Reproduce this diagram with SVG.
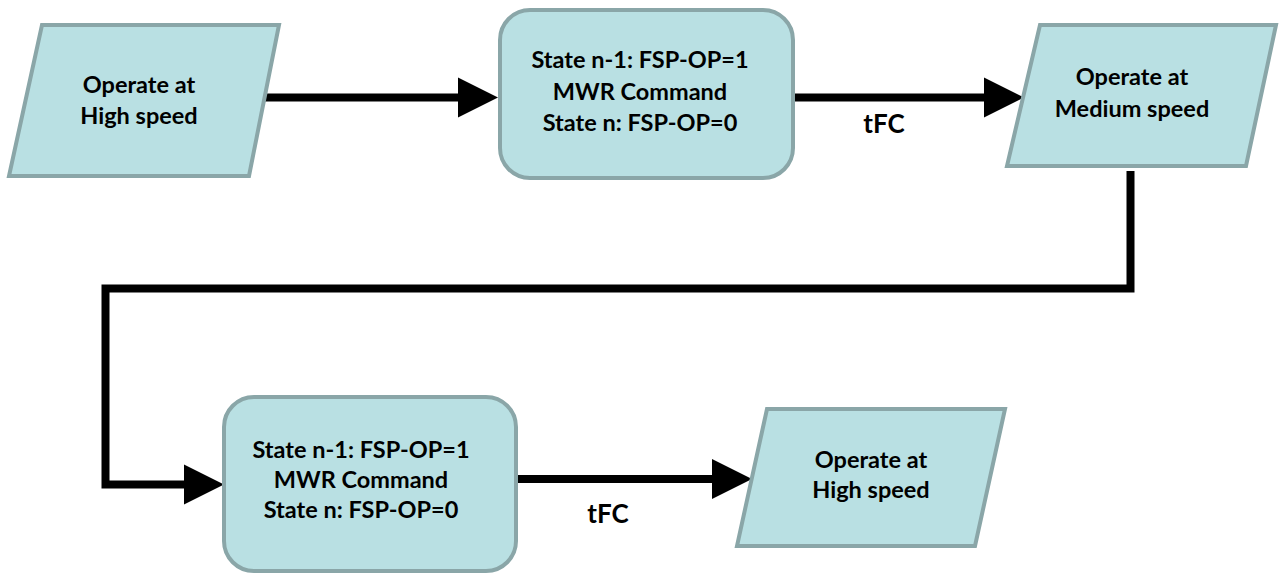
<svg xmlns="http://www.w3.org/2000/svg" width="1280" height="575" viewBox="0 0 1280 575">
<style>
.shape{fill:#b9e0e3;stroke:#8aa6a8;stroke-width:4;stroke-linejoin:miter}
.t{font-family:Lato,"Open Sans","Liberation Sans",sans-serif;font-weight:bold;font-size:23.5px;fill:#000;text-anchor:middle}
.lbl{font-family:Lato,"Open Sans","Liberation Sans",sans-serif;font-weight:bold;font-size:26px;fill:#000;text-anchor:middle}
.conn{fill:none;stroke:#000;stroke-width:8;stroke-linejoin:miter;stroke-linecap:butt}
</style>
<defs>
<marker id="ah" markerUnits="userSpaceOnUse" markerWidth="40" markerHeight="40" refX="0" refY="20" orient="auto" overflow="visible">
<path d="M0,0 L40,20 L0,40 Z" fill="#000"/>
</marker>
</defs>
<rect width="1280" height="575" fill="#fff"/>
<g id="connectors">
<path class="conn" d="M265,97.5 H458" marker-end="url(#ah)"/>
<path class="conn" d="M795,97.5 H984" marker-end="url(#ah)"/>
<path class="conn" d="M1130.5,171 V288.5 H105.5 V484.5 H184" marker-end="url(#ah)"/>
<path class="conn" d="M518,479 H712" marker-end="url(#ah)"/>
<text class="lbl" x="884" y="133">tFC</text>
<text class="lbl" x="608" y="523">tFC</text>
</g>
<g id="n1">
<polygon class="shape" points="42,25 279,25 249,176 9,176"/>
<text class="t" x="139" y="93">Operate at</text>
<text class="t" x="139" y="124">High speed</text>
</g>
<g id="n2">
<rect class="shape" x="500" y="10" width="293" height="168" rx="30" ry="30"/>
<text class="t" x="640" y="68">State n-1: FSP-OP=1</text>
<text class="t" x="640" y="100">MWR Command</text>
<text class="t" x="640" y="131">State n: FSP-OP=0</text>
</g>
<g id="n3">
<polygon class="shape" points="1040,25 1276,25 1246,166 1007,166"/>
<text class="t" x="1132" y="85">Operate at</text>
<text class="t" x="1132" y="117">Medium speed</text>
</g>
<g id="n4">
<rect class="shape" x="224" y="397" width="292" height="174" rx="30" ry="30"/>
<text class="t" x="361" y="458">State n-1: FSP-OP=1</text>
<text class="t" x="361" y="488">MWR Command</text>
<text class="t" x="361" y="518">State n: FSP-OP=0</text>
</g>
<g id="n5">
<polygon class="shape" points="767,409 1005,409 975,546 737,546"/>
<text class="t" x="871" y="468">Operate at</text>
<text class="t" x="871" y="498">High speed</text>
</g>
</svg>
